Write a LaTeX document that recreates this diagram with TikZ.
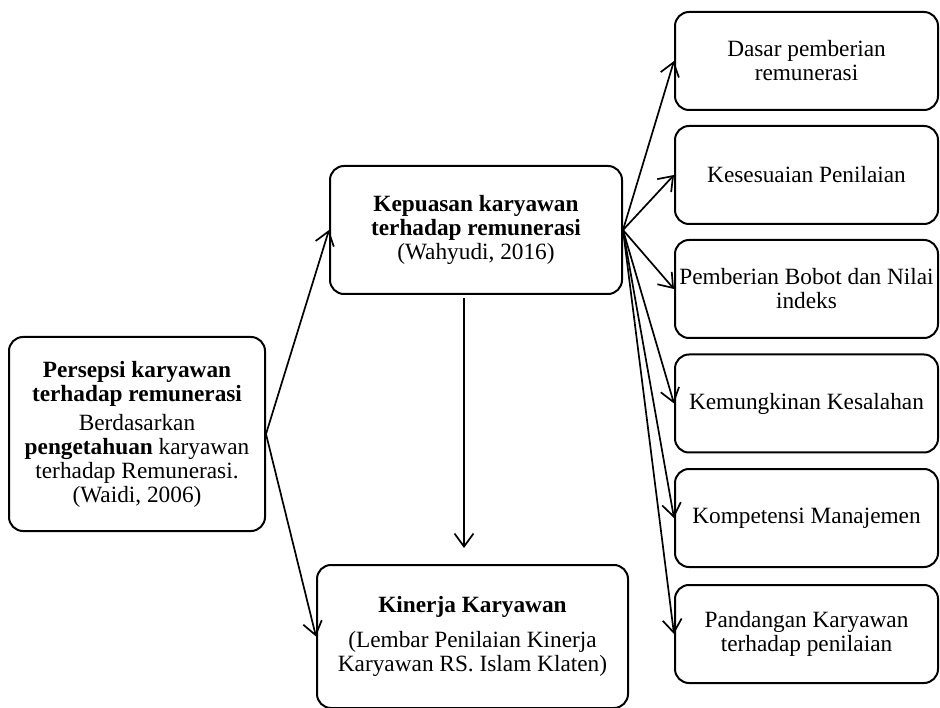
\documentclass[tikz,border=0pt]{standalone}
\usepackage{fontspec}
\setmainfont{Liberation Serif}
\usetikzlibrary{arrows.meta}
\begin{document}
\begin{tikzpicture}[x=1pt,y=-1pt,
  box/.style={draw, line width=2pt, rounded corners=14pt, align=center,
    inner sep=1pt, font=\fontsize{23.3}{24}\selectfont},
  conn/.style={line width=1.7pt, -{Straight Barb[length=13pt,width=19pt,line width=1.7pt]}}]
\useasboundingbox (0,0) rectangle (940,708);
\node[box, minimum width=256pt, minimum height=194pt] (left) at (137,434)
  {\textbf{Persepsi karyawan}\\\textbf{terhadap remunerasi}\\[5pt]
   Berdasarkan\\\textbf{pengetahuan} karyawan\\terhadap Remunerasi.\\(Waidi, 2006)};
\node[box, minimum width=292pt, minimum height=128pt] (mtop) at (476,230)
  {\textbf{Kepuasan karyawan}\\\textbf{terhadap remunerasi}\\(Wahyudi, 2016)};
\node[box, minimum width=311pt, minimum height=143pt] (low) at (472.5,636.5)
  {\textbf{Kinerja Karyawan}\\[11pt](Lembar Penilaian Kinerja\\Karyawan RS. Islam Klaten)};
\node[box, minimum width=263pt, minimum height=98pt] (r1) at (806.5,61)
  {Dasar pemberian\\remunerasi};
\node[box, minimum width=263pt, minimum height=98pt] (r2) at (806.5,175)
  {Kesesuaian Penilaian};
\node[box, minimum width=263pt, minimum height=98pt] (r3) at (806.5,289)
  {Pemberian Bobot dan Nilai\\indeks};
\node[box, minimum width=263pt, minimum height=98pt] (r4) at (806.5,403.5)
  {Kemungkinan Kesalahan};
\node[box, minimum width=263pt, minimum height=98pt] (r5) at (806.5,518)
  {Kompetensi Manajemen};
\node[box, minimum width=263pt, minimum height=98pt] (r6) at (806.5,634)
  {Pandangan Karyawan\\terhadap penilaian};
\coordinate (vtop) at (464,298);
\coordinate (vbot) at (464,548);
\draw[conn] (left.east) -- (mtop.west);
\draw[conn] (left.east) -- (low.west);
\draw[conn] (vtop) -- (vbot);
\foreach \r in {r1,r2,r3,r4,r5,r6}
  \draw[conn] (mtop.east) -- (\r.west);
\end{tikzpicture}
\end{document}
